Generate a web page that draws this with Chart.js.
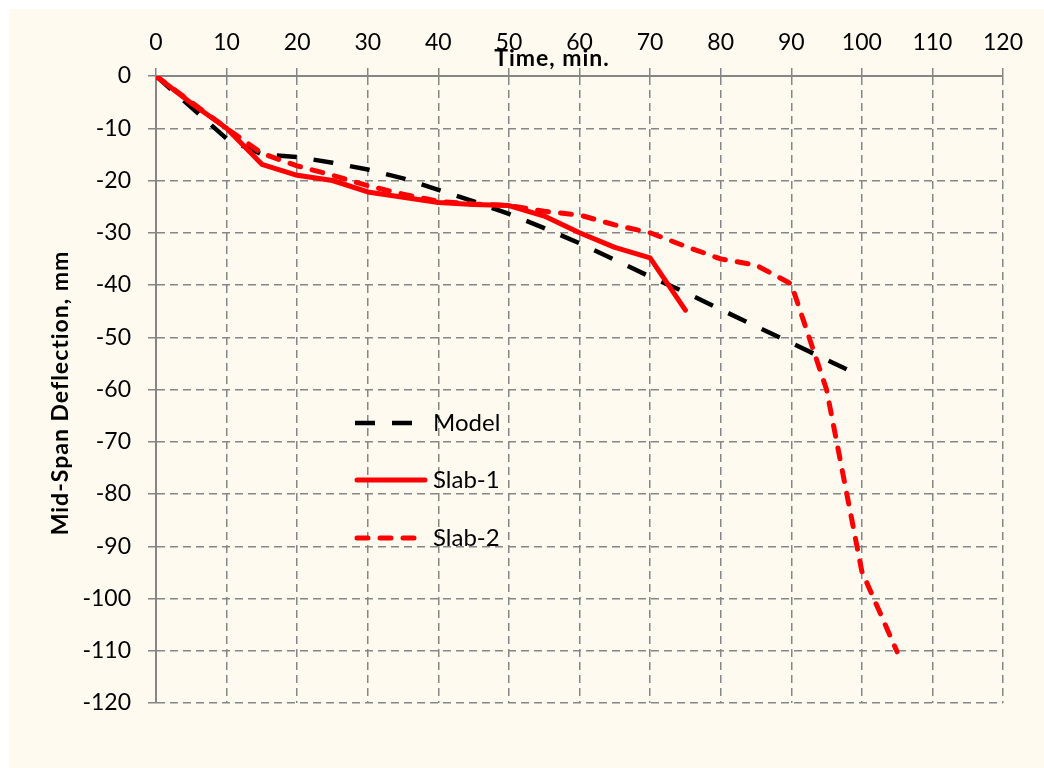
<!DOCTYPE html>
<html>
<head>
<meta charset="utf-8">
<script src="https://cdn.jsdelivr.net/npm/chart.js@4/dist/chart.umd.min.js"></script>
<style>
  html, body { margin: 0; padding: 0; background: #ffffff; }
  #c { display: block; }
</style>
</head>
<body>
<canvas id="c" width="1044" height="768"></canvas>
<script>
// ---- Data ----
const xTitle = "Time, min.";
const yTitle = "Mid-Span Deflection, mm";
const seriesNames = ["Model", "Slab-1", "Slab-2"];

const modelTime = [0, 5, 10, 15, 20, 25, 30, 35, 40, 45, 50, 55, 60, 65, 70, 75, 80, 85, 90, 95, 100];
const modelDefl = [0, -6, -12, -15, -15.5, -16.6, -17.9, -19.6, -21.8, -24, -26.4, -29.1, -32, -35.2, -38.4, -41.4, -44.7, -47.9, -51.1, -54.3, -57.5];

const slab1Time = [0, 5, 10, 15, 20, 25, 30, 35, 40, 45, 50, 55, 60, 65, 70, 75];
const slab1Defl = [0, -5.2, -10, -16.9, -19, -20, -22.2, -23.2, -24.2, -24.6, -24.8, -26.8, -30, -32.8, -34.8, -44.8];

const slab2Time = [0, 5, 10, 15, 20, 25, 30, 35, 40, 45, 50, 55, 60, 65, 70, 75, 80, 85, 90, 95, 100, 105];
const slab2Defl = [0, -5, -10, -14.8, -17.2, -19, -21, -22.6, -24, -24.5, -24.8, -25.9, -26.6, -28.5, -30, -32.6, -35, -36.2, -39.8, -60, -94.8, -110.2];

const xTickMin = 0, xTickMax = 120, xTickStep = 10;
const yTickMin = -120, yTickMax = 0, yTickStep = 10;

// ---- Build ----
function pts(xs, ys) { return xs.map((x, i) => ({ x: x, y: ys[i] })); }

const GRID = '#868686';
const FONT = 'Lato, "Open Sans", "Liberation Sans", sans-serif';

const bgPlugin = {
  id: 'bg',
  beforeDraw(chart) {
    const ctx = chart.ctx;
    ctx.save();
    ctx.fillStyle = '#ffffff';
    ctx.fillRect(0, 0, chart.width, chart.height);
    ctx.fillStyle = '#fefaf0';
    ctx.fillRect(9, 9, chart.width - 9, chart.height - 9);
    ctx.restore();
  }
};

const titlesPlugin = {
  id: 'titles',
  afterDraw(chart) {
    const ctx = chart.ctx;
    ctx.save();
    ctx.fillStyle = '#000';
    ctx.font = 'bold 23px ' + FONT;
    try { ctx.letterSpacing = '1px'; } catch (e) {}
    ctx.textAlign = 'center';
    ctx.textBaseline = 'alphabetic';
    ctx.fillText(xTitle, 552, 66);
    ctx.translate(68, 393);
    ctx.rotate(-Math.PI / 2);
    ctx.fillText(yTitle, 0, 0);
    ctx.restore();
  }
};

const legendPlugin = {
  id: 'customLegend',
  afterDatasetsDraw(chart) {
    const ctx = chart.ctx;
    const rows = [423, 480, 538];
    chart.data.datasets.forEach((ds, i) => {
      const y = rows[i];
      ctx.save();
      ctx.strokeStyle = ds.borderColor;
      ctx.lineWidth = ds.borderWidth;
      ctx.lineCap = ds.borderCapStyle || 'butt';
      ctx.setLineDash(ds.borderDash || []);
      ctx.beginPath();
      ctx.moveTo(ds.borderCapStyle === 'round' ? 357 : 355, y);
      ctx.lineTo(ds.borderCapStyle === 'round' ? 425 : 427, y);
      ctx.stroke();
      ctx.setLineDash([]);
      ctx.fillStyle = '#000';
      ctx.font = '24px ' + FONT;
      ctx.textAlign = 'left';
      ctx.textBaseline = 'middle';
      ctx.fillText(ds.label, 433, y);
      ctx.restore();
    });
  }
};

new Chart(document.getElementById('c'), {
  type: 'scatter',
  data: {
    datasets: [
      {
        label: seriesNames[0],
        data: pts(modelTime, modelDefl),
        showLine: true,
        borderColor: '#000000',
        backgroundColor: '#000000',
        borderWidth: 4.5,
        borderDash: [20, 17],
        borderCapStyle: 'butt',
        borderJoinStyle: 'round',
        pointRadius: 0,
        order: 3
      },
      {
        label: seriesNames[1],
        data: pts(slab1Time, slab1Defl),
        showLine: true,
        borderColor: '#ff0000',
        backgroundColor: '#ff0000',
        borderWidth: 5,
        borderCapStyle: 'round',
        borderJoinStyle: 'round',
        pointRadius: 0,
        order: 2
      },
      {
        label: seriesNames[2],
        data: pts(slab2Time, slab2Defl),
        showLine: true,
        borderColor: '#ff0000',
        backgroundColor: '#ff0000',
        borderWidth: 5,
        borderDash: [11, 12],
        borderCapStyle: 'round',
        borderJoinStyle: 'round',
        pointRadius: 0,
        order: 1
      }
    ]
  },
  options: {
    responsive: false,
    animation: false,
    devicePixelRatio: 1,
    layout: { padding: { left: 0, top: 0, right: 41, bottom: 65 } },
    plugins: {
      legend: { display: false },
      tooltip: { enabled: false },
      title: { display: false }
    },
    scales: {
      x: {
        type: 'linear',
        position: 'top',
        min: xTickMin,
        max: xTickMax,
        afterFit(s) { s.height = 76; },
        ticks: {
          stepSize: xTickStep,
          color: '#000',
          font: { family: FONT, size: 23 },
          padding: 12,
          maxRotation: 0,
          autoSkip: false
        },
        grid: {
          color: GRID,
          lineWidth: 1.5,
          drawTicks: true,
          tickLength: 8,
          tickColor: GRID,
          tickWidth: 1.5
        },
        border: { display: true, color: GRID, width: 2, dash: [8, 5] }
      },
      y: {
        type: 'linear',
        position: 'left',
        min: yTickMin,
        max: yTickMax,
        afterFit(s) { s.width = 156; },
        ticks: {
          stepSize: yTickStep,
          color: '#000',
          font: { family: FONT, size: 23 },
          padding: 17,
          autoSkip: false
        },
        grid: {
          color: GRID,
          lineWidth: 1.5,
          drawTicks: true,
          tickLength: 8,
          tickColor: GRID,
          tickWidth: 1.5
        },
        border: { display: true, color: GRID, width: 2, dash: [8, 5] }
      }
    }
  },
  plugins: [bgPlugin, titlesPlugin, legendPlugin]
});
</script>
</body>
</html>
